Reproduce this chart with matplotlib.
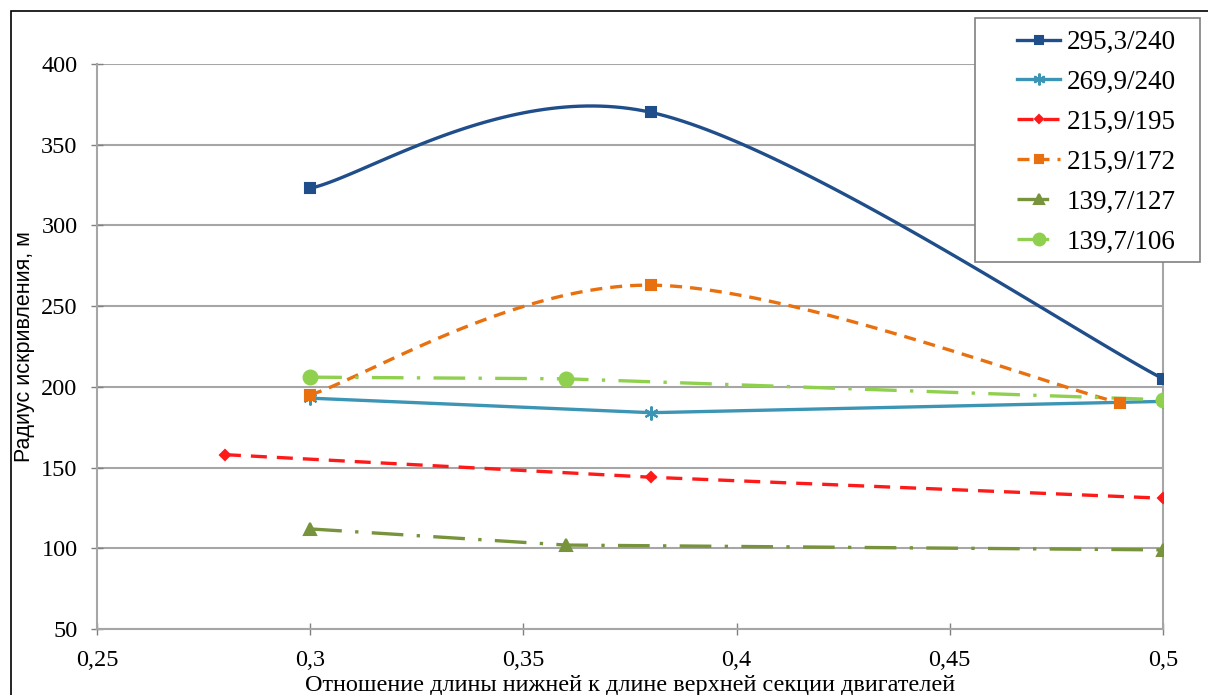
import numpy as np
import matplotlib
matplotlib.use("Agg")
import matplotlib.pyplot as plt
from matplotlib.patches import Rectangle

plt.rcParams['font.family'] = ['Liberation Serif', 'DejaVu Serif']

labels = ['295,3/240', '269,9/240', '215,9/195', '215,9/172', '139,7/127', '139,7/106']

x_1 = [0.30, 0.38, 0.50]
y_1 = [323, 370, 205]
x_2 = [0.30, 0.38, 0.50]
y_2 = [193, 184, 191]
x_3 = [0.28, 0.38, 0.50]
y_3 = [158, 144, 131]
x_4 = [0.30, 0.38, 0.49]
y_4 = [195, 263, 190]
x_5 = [0.30, 0.36, 0.50]
y_5 = [112, 102, 99]
x_6 = [0.30, 0.36, 0.50]
y_6 = [206, 205, 192]

x_ticks = [0.25, 0.3, 0.35, 0.4, 0.45, 0.5]
x_ticklabels = ['0,25', '0,3', '0,35', '0,4', '0,45', '0,5']
y_ticks = [50, 100, 150, 200, 250, 300, 350, 400]


def smooth(xs, ys, n=60):
    # Excel-like smoothed line: Bezier segments with Catmull-Rom control points
    p = np.column_stack([xs, ys]).astype(float)
    out = []
    for i in range(len(p) - 1):
        p0 = p[i - 1] if i > 0 else p[i]
        p1, p2 = p[i], p[i + 1]
        p3 = p[i + 2] if i + 2 < len(p) else p[i + 1]
        c1 = p1 + (p2 - p0) / 6
        c2 = p2 - (p3 - p1) / 6
        t = np.linspace(0, 1, n)[:, None]
        seg = (1 - t) ** 3 * p1 + 3 * (1 - t) ** 2 * t * c1 + 3 * (1 - t) * t ** 2 * c2 + t ** 3 * p2
        out.append(seg)
    s = np.vstack(out)
    return s[:, 0], s[:, 1]


fig = plt.figure(figsize=(12.08, 6.95), dpi=100)
ax = fig.add_axes([97 / 1208, 1 - 629 / 695, (1163 - 97) / 1208, (629 - 64) / 695])

lw = 2.4
dashdot = (0, (9.5, 4, 1, 4))
series = [
    (x_1, y_1, '#1F4E8A', '-', 's', 7, True),
    (x_2, y_2, '#3D95B5', '-', (6, 2, 0), 10, False),
    (x_3, y_3, '#FF1A1A', (0, (4.8, 3)), 'D', 5, False),
    (x_4, y_4, '#E8700F', (0, (3.6, 2.4)), 's', 7, True),
    (x_5, y_5, '#77933C', dashdot, '^', 8, False),
    (x_6, y_6, '#8FD14F', dashdot, 'o', 10, False),
]

handles = []
for xs, ys, c, ls, mk, ms, sm in series:
    if sm:
        sx, sy = smooth(xs, ys)
    else:
        sx, sy = xs, ys
    ax.plot(sx, sy, color=c, lw=lw, ls=ls, zorder=3)
    ax.plot(xs, ys, ls='none', marker=mk, color=c, ms=ms, mew=1.5, zorder=4)
    h, = ax.plot([], [], color=c, lw=lw, ls=ls, marker=mk, ms=ms * 0.85, mew=1.5)
    handles.append(h)

ax.set_xlim(0.25, 0.5)
ax.set_ylim(50, 400)
ax.set_xticks(x_ticks)
ax.set_xticklabels(x_ticklabels)
ax.set_yticks(y_ticks)
ax.yaxis.grid(True, color='#A6A6A6', lw=1.5)
ax.set_axisbelow(True)
ax.spines['top'].set_visible(False)
for s in ['left', 'bottom', 'right']:
    ax.spines[s].set_color('#A6A6A6')
    ax.spines[s].set_linewidth(1.5)
ax.tick_params(axis='both', labelsize=17.5, color='#808080', length=8, width=1,
               direction='inout')
ax.tick_params(axis='x', pad=11)
ax.tick_params(axis='y', pad=10)

ax.set_xlabel('Отношение длины нижней к длине верхней секции двигателей',
              fontsize=17.5, labelpad=3)
ax.set_ylabel('Радиус искривления, м', fontsize=15.5,
              family=['Liberation Sans'], labelpad=4)

leg = fig.legend(handles, labels, loc='upper left',
                 bbox_to_anchor=(1017 / 1208, 1 - 30 / 695), bbox_transform=fig.transFigure,
                 fontsize=19.5, frameon=False, handlelength=1.6,
                 handletextpad=0.25, labelspacing=0.55, borderpad=0, borderaxespad=0)

fig.patches.append(Rectangle((975 / 1208, 1 - 262 / 695), 225 / 1208, 244 / 695,
                             transform=fig.transFigure, fill=True, fc='white',
                             ec='#808080', lw=1.2, zorder=0.5))
leg.set_zorder(5)

fig.patches.append(Rectangle((11 / 1208, -0.1), 1.2, 1 - 11 / 695 + 0.1,
                             transform=fig.transFigure, fill=False, ec='black', lw=1.2))

fig.savefig('out.png', dpi=100)
